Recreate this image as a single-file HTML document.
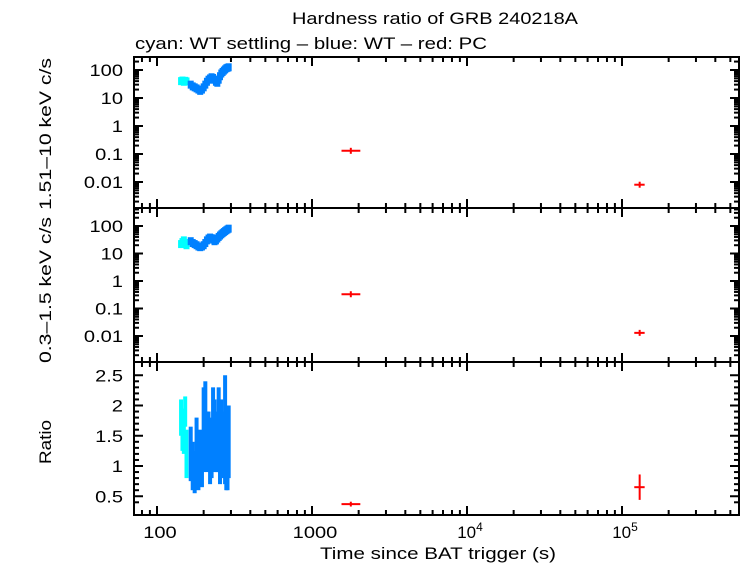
<!DOCTYPE html>
<html><head><meta charset="utf-8"><style>
body{margin:0;background:#fff;width:742px;height:566px;overflow:hidden}
svg text{font-family:"Liberation Sans",sans-serif;fill:#000}
</style></head><body>
<svg id="c" width="742" height="566" viewBox="0 0 742 566"></svg>
<script>
const cyanT=[143,146,149,152,155];
const cyanHard=[40,42,38,41,39];
const cyanSoft=[22,26,30,24,20];
const cyanRatio=[1.8,1.6,1.5,1.9,1.2];
const cyanRatioErr=[0.3,0.35,0.3,0.25,0.4];
const blueT=[165,170,175,180,185,190,195,200,205,210,215,220,225,230,235,240,245,250,255,260,265,270,275,280,285,290];
const blueHard=[30,26,24,22,20,18,20,24,30,38,45,50,55,52,45,38,35,45,60,75,85,95,105,115,120,125];
const blueSoft=[28,24,22,20,18,17,18,20,24,30,35,38,36,32,28,30,35,40,45,50,55,60,65,70,75,80];
const blueRatio=[1.2,1.0,0.9,1.3,1.0,1.2,1.1,1.6,1.8,1.4,1.5,1.2,1.3,1.7,1.5,1.3,1.4,1.6,1.2,1.5,1.4,1.3,1.6,1.2,1.1,1.4];
const blueRatioErr=[0.45,0.4,0.35,0.5,0.4,0.4,0.45,0.7,0.6,0.5,0.4,0.5,0.5,0.6,0.6,0.4,0.5,0.7,0.5,0.6,0.5,0.5,0.9,0.6,0.5,0.6];
const redT=[1780,130000];
const redTlo=[1550,120000];
const redThi=[2050,140000];
const redHard=[0.13,0.008];
const redSoft=[0.33,0.013];
const redRatio=[0.37,0.65];
const redRatioErr=[0.04,0.21];
const xTicks=[100,1000,10000,100000];
const rateTicks=[100,10,1,0.1,0.01];
const rateTickLabels=["100","10","1","0.1","0.01"];
const ratioTicks=[0.5,1,1.5,2,2.5];

const svg=document.getElementById('c');const NS='http://www.w3.org/2000/svg';
function el(t,a,p){const e=document.createElementNS(NS,t);for(const k in a)e.setAttribute(k,a[k]);(p||svg).appendChild(e);return e;}
function widen(t,f){const w=t.getComputedTextLength();t.setAttribute('textLength',w*f);t.setAttribute('lengthAdjust','spacingAndGlyphs');}
const L=134,R=739;
function X(t){return 157+(Math.log10(t)-2)*155;}
const panels=[{top:57,bot:208},{top:208,bot:362},{top:362,bot:515}];
function Yt(v){return 126-Math.log10(v)*28;}
function Ym(v){return 281-Math.log10(v)*27.5;}
function Yr(v){return 466-(v-1)*60.5;}

panels.forEach((p,i)=>{const r=el('rect',{x:L,y:p.top,width:R-L,height:p.bot-p.top,fill:'none',stroke:'#000','stroke-width':2});

for(let d=1;d<=6;d++)for(let m=1;m<10;m++){const t=m*Math.pow(10,d);const x=X(t);if(x<=L||x>=R)continue;const len=m==1?9:5;
el('line',{x1:x,y1:p.top,x2:x,y2:p.top+len,stroke:'#000','stroke-width':2});el('line',{x1:x,y1:p.bot,x2:x,y2:p.bot-len,stroke:'#000','stroke-width':2});}
});
function logYTicks(f,p,lbl){for(let e=-3;e<=3;e++)for(let m=1;m<10;m++){const v=m*Math.pow(10,e);const y=f(v);if(y<=p.top+1||y>=p.bot-1)continue;const len=m==1?9:5;
el('line',{x1:L,y1:y,x2:L+len,y2:y,stroke:'#000','stroke-width':2});el('line',{x1:R,y1:y,x2:R-len,y2:y,stroke:'#000','stroke-width':2});}
rateTicks.forEach((v,i)=>{const t=el('text',{x:123,y:f(v)+6,'font-size':17,'text-anchor':'end'});t.textContent=rateTickLabels[i];widen(t,1.18);});}
logYTicks(Yt,panels[0],'hard-rate');logYTicks(Ym,panels[1],'soft-rate');
for(let v=0.4;v<=2.6;v+=0.1){const y=Yr(v);if(y<=363||y>=514)continue;const maj=Math.abs(v*2-Math.round(v*2))<0.01;const len=maj?9:5;
el('line',{x1:L,y1:y,x2:L+len,y2:y,stroke:'#000','stroke-width':2});el('line',{x1:R,y1:y,x2:R-len,y2:y,stroke:'#000','stroke-width':2});}
ratioTicks.forEach(v=>{const t=el('text',{x:123,y:Yr(v)+6,'font-size':17,'text-anchor':'end'});t.textContent=String(v);widen(t,1.18);});
const xl=['100','1000'];
xTicks.forEach((v,i)=>{const t=el('text',{x:X(v)+3,y:538,'font-size':17,'text-anchor':'middle'});
if(i<2){t.textContent=xl[i];widen(t,1.18);}else{t.textContent='10';const s=el('tspan',{dy:-7,'font-size':12},t);s.textContent=String(Math.log10(v));}
});

function pts(ts,vals,f,col,name,hw){ts.forEach((t,i)=>{const x=X(t),y=f(vals[i]);const r=el('rect',{x:x-hw,y:y-4,width:hw*2,height:8,fill:col});});}
pts(cyanT,cyanHard,Yt,'#00ffff','cyan-hard-point',3);pts(blueT,blueHard,Yt,'#0080ff','blue-hard-point',3);
pts(cyanT,cyanSoft,Ym,'#00ffff','cyan-soft-point',3);pts(blueT,blueSoft,Ym,'#0080ff','blue-soft-point',3);
function rat(ts,v,e,col,name){ts.forEach((t,i)=>{const x=X(t);const r=el('rect',{x:x-2,y:Yr(v[i]+e[i]),width:4,height:Yr(v[i]-e[i])-Yr(v[i]+e[i]),fill:col});});}
rat(cyanT,cyanRatio,cyanRatioErr,'#00ffff','cyan-ratio-bar');rat(blueT,blueRatio,blueRatioErr,'#0080ff','blue-ratio-bar');
function red(vals,errs,f,name){redT.forEach((t,i)=>{const g=el('g',{});const y=f(vals[i]);
el('line',{x1:X(redTlo[i]),y1:y,x2:X(redThi[i]),y2:y,stroke:'#f00','stroke-width':2},g);
const ey=errs?errs[i]:0;const y1=errs?Yr(vals[i]+ey):y-3,y2=errs?Yr(vals[i]-ey):y+3;el('line',{x1:X(t),y1:y1,x2:X(t),y2:y2,stroke:'#f00','stroke-width':2},g);});}
red(redHard,null,Yt,'red-hard-point');red(redSoft,null,Ym,'red-soft-point');red(redRatio,redRatioErr,Yr,'red-ratio-point');

function txt(s,a,name,len){const t=el('text',a);t.textContent=s;if(len){t.setAttribute('textLength',len);t.setAttribute('lengthAdjust','spacingAndGlyphs');}}
txt('Hardness ratio of GRB 240218A',{x:292,y:24,'font-size':17},'chart-title',286);
txt('cyan: WT settling \u2013 blue: WT \u2013 red: PC',{x:135,y:49,'font-size':17},'chart-subtitle',352);
txt('Time since BAT trigger (s)',{x:320,y:559,'font-size':17},'x-axis-title',236);
txt('1.51\u201310 keV c/s',{x:0,y:0,'font-size':17,'text-anchor':'middle',transform:'translate(51,134) rotate(-90)'},'hard-y-axis-title',152);
txt('0.3\u20131.5 keV c/s',{x:0,y:0,'font-size':17,'text-anchor':'middle',transform:'translate(51,290) rotate(-90)'},'soft-y-axis-title',146);
txt('Ratio',{x:0,y:0,'font-size':17,'text-anchor':'middle',transform:'translate(51,442) rotate(-90)'},'ratio-y-axis-title',44);
</script>
</body></html>
